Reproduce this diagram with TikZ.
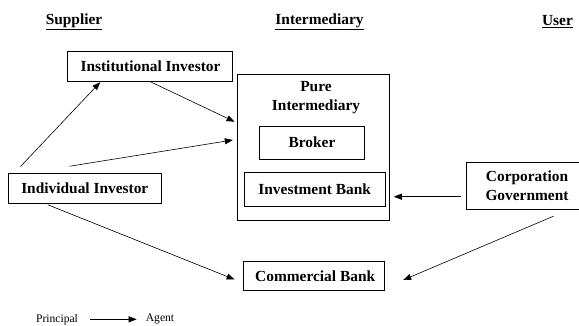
\documentclass[tikz,border=0pt]{standalone}
\usepackage{fontspec}
\setmainfont{Liberation Serif}
\usetikzlibrary{arrows.meta,calc}
\begin{document}
\begin{tikzpicture}[x=1pt,y=-1pt,
  box/.style={draw,line width=0.9pt,inner sep=0pt,font=\bfseries\fontsize{15.4}{18.5}\selectfont,align=center},
  hdr/.style={inner sep=0pt,font=\bfseries\fontsize{15.4}{18.5}\selectfont},
  plain/.style={inner sep=0pt,font=\bfseries\fontsize{15.4}{18.5}\selectfont,align=center},
  leg/.style={inner sep=0pt,font=\fontsize{11.6}{14}\selectfont},
  conn/.style={line width=0.6pt,-{Triangle[length=8pt,width=6pt]}}]
\useasboundingbox (0,0) rectangle (579,325);
% headers
\node[hdr] (hsup) at (74,22) {\underline{Supplier}};
\node[hdr] (hint) at (319.5,22) {\underline{Intermediary}};
\node[hdr] (huser) at (557.5,22) {\underline{User}};
% boxes
\node[box,minimum width=165pt,minimum height=30pt] (inst) at (149.5,66) {\hspace*{2pt}Institutional Investor};
\node[box,minimum width=153.7pt,minimum height=30pt] (indiv) at (84.8,188.3) {Individual Investor};
\node[box,minimum width=152pt,minimum height=146pt] (pure) at (313,147) {};
\node[plain] (puretxt) at (316,97.5) {Pure\\Intermediary};
\node[box,minimum width=105.4pt,minimum height=33pt] (broker) at (312,142.5) {Broker};
\node[box,minimum width=141.3pt,minimum height=34pt] (invbank) at (314.7,189.7) {Investment Bank};
\node[box,minimum width=122pt,minimum height=47pt] (corp) at (527,185.8) {Corporation\\Government};
\node[box,minimum width=140.7pt,minimum height=29pt] (comm) at (313.7,276.2) {\hspace*{3pt}Commercial Bank};
% connectors
\draw[conn] ($(indiv.north west)+(13,-6.3)$) -- ($(inst.south west)+(33.7,0.7)$);
\draw[conn] ($(inst.south west)+(84.7,0.7)$) -- ($(pure.west)+(-2,-25.3)$);
\draw[conn] ($(indiv.north west)+(62,-6.6)$) -- ($(pure.west)+(-3.7,-7)$);
\draw[conn] ($(corp.west)+(-4.3,10.9)$) -- ($(invbank.east)+(8,7)$);
\draw[conn] ($(indiv.south west)+(40.3,1)$) -- ($(comm.west)+(-8.3,3.3)$);
\draw[conn] ($(corp.south west)+(88,6.4)$) -- ($(comm.east)+(18.7,3.8)$);
% legend
\node[leg] (principal) at (57,319.3) {Principal};
\node[leg] (agent) at (160,319.3) {Agent};
\draw[conn] ($(principal.east)+(12,0)$) -- ($(agent.west)+(-9,0)$);
\end{tikzpicture}
\end{document}
